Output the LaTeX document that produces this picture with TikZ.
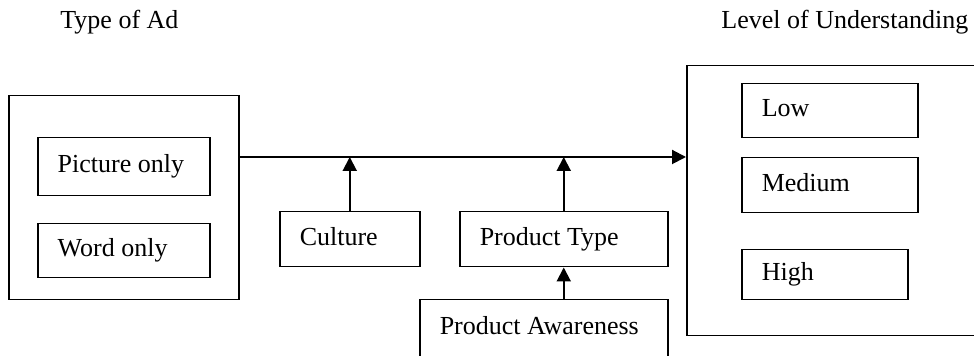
\documentclass[tikz,border=0pt]{standalone}
\usepackage{fontspec}
\setmainfont{Liberation Serif}
\usetikzlibrary{arrows.meta}

\begin{document}
\begin{tikzpicture}[x=0.5pt,y=-0.5pt]

    \tikzset{
      frame/.style={
        draw,
        line width=0.75pt,
        inner sep=0pt,
        anchor=north west,
      },
      item/.style={
        draw,
        line width=0.75pt,
        align=flush left,
        inner xsep=10pt,
        inner ysep=0pt,
        text height=9pt,
        text depth=3pt,
        anchor=north west,
        font=\fontsize{13}{15}\selectfont,
      },
      title/.style={
        anchor=base west,
        inner sep=0pt,
        font=\fontsize{13}{15}\selectfont,
      },
      flow/.style={
        line width=1pt,
        -{Triangle[length=7pt,width=7pt]},
      },
    }
    \useasboundingbox (0,0) rectangle (974,356);
    \clip (0,0) rectangle (974,356);

	\node[title] (adTitle) at (60,29) {Type of Ad};
	\node[title] (levelTitle) at (721,29) {Level of Understanding};

	\node[frame,minimum width=115pt,minimum height=102pt] (typeBox) at (8,95) {};
	\node[item,text width=66pt,minimum height=29pt] (pic) at (37,137) {Picture only};
	\node[item,text width=66pt,minimum height=27pt] (word) at (37,223) {Word only};

	\node[frame,minimum width=160pt,minimum height=135pt] (levelBox) at (686,65) {};
	\node[item,text width=68pt,minimum height=27pt] (low) at (741,83) {Low};
	\node[item,text width=68pt,minimum height=27.5pt] (med) at (741,157) {Medium};
	\node[item,text width=63pt,minimum height=25pt] (high) at (741,249) {High};

	\node[item,text width=50pt,minimum height=27.5pt] (culture) at (279,211) {Culture};
	\node[item,text width=84pt,minimum height=27.5pt] (ptype) at (459,211) {Product Type};
	\node[item,text width=104pt,minimum height=29pt] (aware) at (419,299) {Product Awareness};

	\coordinate (mainL) at ([yshift=-31pt]typeBox.north east);
	\coordinate (mainR) at (levelBox.west |- mainL);
	\draw[flow] (mainL) -- (mainR);
	\draw[flow] (culture.north) -- (culture.north |- mainL);
	\draw[flow] (ptype.north) -- (ptype.north |- mainL);
	\draw[flow] (ptype.south |- aware.north) -- (ptype.south);

\end{tikzpicture}
\end{document}
